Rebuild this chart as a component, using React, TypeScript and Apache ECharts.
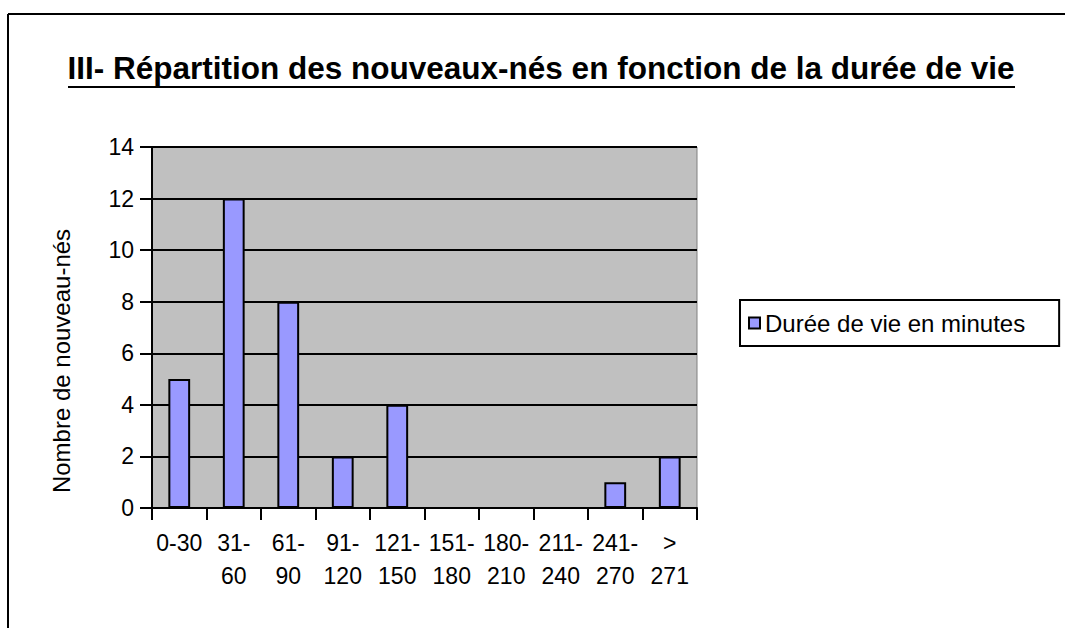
import React, { useEffect, useRef } from "react";
import * as echarts from "echarts";

const categories = ["0-30", "31-\n60", "61-\n90", "91-\n120", "121-\n150", "151-\n180", "180-\n210", "211-\n240", "241-\n270", ">\n271"];
const values = [5, 12, 8, 2, 4, 0, 0, 0, 1, 2];
const seriesName = "Durée de vie en minutes";
const titleText = "III- Répartition des nouveaux-nés en fonction de la durée de vie";
const yAxisName = "Nombre de nouveau-nés";

export default function App() {
  const ref = useRef<HTMLDivElement>(null);
  useEffect(() => {
    if (!ref.current) return;
    const chart = echarts.init(ref.current, null, { renderer: "svg" });
    const font = "Arial, 'Liberation Sans', sans-serif";
    chart.setOption({
      animation: false,
      backgroundColor: "#ffffff",
      textStyle: { fontFamily: font },
      grid: {
        left: 152,
        top: 147,
        width: 545,
        height: 361,
        show: true,
        backgroundColor: "#C0C0C0",
        borderColor: "#808080",
        borderWidth: 1,
      },
      legend: {
        left: 740,
        top: 300,
        orient: "vertical",
        icon: "rect",
        itemWidth: 11,
        itemHeight: 11,
        itemGap: 4,
        borderColor: "#000000",
        borderWidth: 2,
        padding: [11, 34, 11, 8],
        textStyle: { fontSize: 24, color: "#000000", fontFamily: font },
        data: [seriesName],
      },
      xAxis: {
        type: "category",
        data: categories,
        axisLine: { show: true, lineStyle: { color: "#000000", width: 2 } },
        axisTick: { show: true, length: 12, alignWithLabel: false, lineStyle: { color: "#000000", width: 2 } },
        axisLabel: {
          interval: 0,
          color: "#000000",
          fontSize: 23,
          lineHeight: 33,
          margin: 18,
          fontFamily: font,
        },
        splitLine: { show: false },
      },
      yAxis: {
        type: "value",
        min: 0,
        max: 14,
        interval: 2,
        axisLine: { show: true, lineStyle: { color: "#000000", width: 2 } },
        axisTick: { show: true, length: 12, lineStyle: { color: "#000000", width: 2 } },
        axisLabel: { color: "#000000", fontSize: 23, margin: 18, fontFamily: font },
        splitLine: { show: true, lineStyle: { color: "#000000", width: 2 } },
      },
      series: [
        {
          name: seriesName,
          type: "bar",
          data: values,
          barWidth: "40%",
          itemStyle: { color: "#9999FF", borderColor: "#000000", borderWidth: 2 },
        },
      ],
      graphic: [
        {
          type: "line",
          shape: { x1: 8, y1: 14, x2: 1065, y2: 14 },
          style: { stroke: "#000000", lineWidth: 2 },
        },
        {
          type: "line",
          shape: { x1: 8, y1: 14, x2: 8, y2: 628 },
          style: { stroke: "#000000", lineWidth: 2 },
        },
        {
          type: "text",
          x: 541,
          y: 84,
          scaleX: 0.985,
          style: {
            text: titleText,
            fontSize: 32,
            fontWeight: "bold",
            fontFamily: font,
            fill: "#000000",
            textAlign: "center",
            textVerticalAlign: "bottom",
          },
        },
        {
          type: "line",
          shape: { x1: 68, y1: 87, x2: 1015, y2: 87 },
          style: { stroke: "#000000", lineWidth: 2 },
        },
        {
          type: "text",
          x: 61,
          y: 361,
          rotation: Math.PI / 2,
          style: {
            text: yAxisName,
            fontSize: 24,
            fontFamily: font,
            fill: "#000000",
            textAlign: "center",
            textVerticalAlign: "middle",
          },
        },
      ],
    });
    return () => chart.dispose();
  }, []);
  return <div ref={ref} style={{ position: "fixed", left: 0, top: 0, width: 1065, height: 628 }} />;
}
